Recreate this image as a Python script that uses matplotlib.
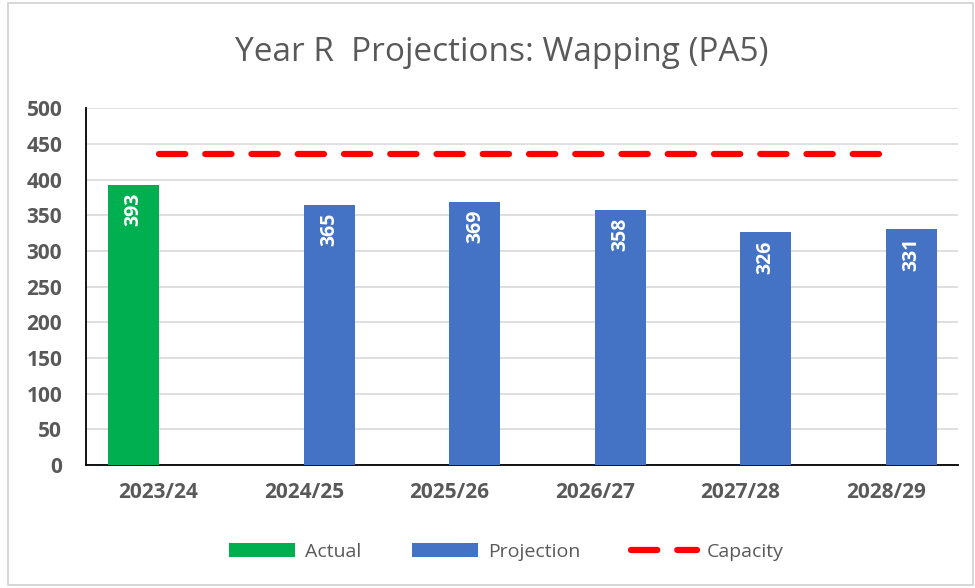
import matplotlib.pyplot as plt
import numpy as np
from matplotlib.patches import Rectangle

# 数据
years = ['2023/24', '2024/25', '2025/26', '2026/27', '2027/28', '2028/29']
actual = [393, None, None, None, None, None]
projection = [None, 365, 369, 358, 326, 331]
capacity = [436, 436, 436, 436, 436, 436]

plt.rcParams['font.family'] = ['Open Sans', 'DejaVu Sans']

fig = plt.figure(figsize=(9.75, 5.88), dpi=100)
ax = fig.add_axes([0.088, 0.209, 0.895, 0.607])

# 外边框
fig.patches.append(Rectangle((0.008, 0.005), 0.99, 0.99, transform=fig.transFigure,
                             fill=False, edgecolor='#d0d0d0', linewidth=1.2))

x = np.arange(len(years))
w = 0.35

act_x = [i - w / 2 for i, v in zip(x, actual) if v is not None]
act_v = [v for v in actual if v is not None]
pro_x = [i + w / 2 for i, v in zip(x, projection) if v is not None]
pro_v = [v for v in projection if v is not None]

b1 = ax.bar(act_x, act_v, width=w, color='#00B050', label='Actual', zorder=3)
b2 = ax.bar(pro_x, pro_v, width=w, color='#4472C4', label='Projection', zorder=3)
l1, = ax.plot(x, capacity, color='#FF0000', linewidth=4.5, linestyle=(0, (4.2, 3.2)),
              dash_capstyle='round', label='Capacity', zorder=4)

# 数据标签
for bx, v in list(zip(act_x, act_v)) + list(zip(pro_x, pro_v)):
    ax.annotate(str(v), (bx, v), xytext=(0, -6), textcoords='offset points',
                rotation=90, ha='center', va='top', color='white',
                fontsize=14, fontweight='bold', zorder=5)

ax.set_xlim(-0.5, len(years) - 0.5)
ax.set_ylim(0, 500)
ax.set_yticks(range(0, 501, 50))
ax.set_xticks(x, years)
ax.tick_params(axis='y', length=0, labelsize=15, labelcolor='#595959', pad=17)
ax.tick_params(axis='x', length=0, labelsize=15, labelcolor='#595959', pad=12)
for lbl in ax.get_xticklabels() + ax.get_yticklabels():
    lbl.set_fontweight('bold')

ax.grid(axis='y', color='#d9d9d9', linewidth=1.2, zorder=0)
for s in ['top', 'right']:
    ax.spines[s].set_visible(False)
ax.spines['left'].set_color('black')
ax.spines['bottom'].set_color('black')
ax.spines['left'].set_linewidth(1.3)
ax.spines['bottom'].set_linewidth(1.3)

fig.suptitle('Year R  Projections: Wapping (PA5)', x=0.515, y=0.938, fontsize=24, color='#595959')

ax.legend([b1, b2, l1], ['Actual', 'Projection', 'Capacity'],
          loc='center', bbox_to_anchor=(0.482, -0.243), ncol=3, frameon=False,
          fontsize=14, labelcolor='#595959', handlelength=3.4, handletextpad=0.5,
          columnspacing=2.6)

fig.savefig('out.png', dpi=100)
